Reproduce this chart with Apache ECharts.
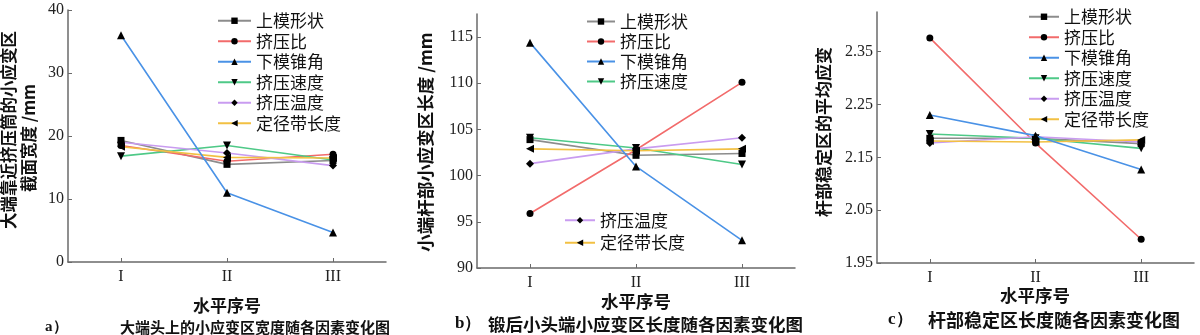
<!DOCTYPE html>
<html>
<head>
<meta charset="utf-8">
<script src="https://cdn.jsdelivr.net/npm/echarts@6/dist/echarts.min.js"></script>
<style>
html,body{margin:0;padding:0;background:#fff;}
#chart{width:1200px;height:335px;}
</style>
</head>
<body>
<div id="chart"></div>
<script>
// ---- data ----
var categories = ['I', 'II', 'III'];
var factors = ['上模形状', '挤压比', '下模锥角', '挤压速度', '挤压温度', '定径带长度'];

// panel a: 大端靠近挤压筒的小应变区截面宽度 /mm
var a_shangmo  = [19.3, 15.5, 16.1];
var a_jiyabi   = [18.5, 16.0, 17.1];
var a_xiamo    = [36.0, 11.0, 4.7];
var a_sudu     = [16.8, 18.5, 16.2];
var a_wendu    = [19.0, 17.3, 15.3];
var a_dingjing = [18.3, 16.6, 16.5];

// panel b: 小端杆部小应变区长度 /mm
var b_shangmo  = [103.9, 102.2, 102.4];
var b_jiyabi   = [95.9, 102.8, 110.1];
var b_xiamo    = [114.4, 101.0, 93.0];
var b_sudu     = [104.1, 103.0, 101.2];
var b_wendu    = [101.3, 102.9, 104.1];
var b_dingjing = [102.9, 102.7, 102.9];

// panel c: 杆部稳定区的平均应变
var c_shangmo  = [2.186, 2.186, 2.176];
var c_jiyabi   = [2.376, 2.177, 1.995];
var c_xiamo    = [2.230, 2.191, 2.127];
var c_sudu     = [2.194, 2.186, 2.167];
var c_wendu    = [2.177, 2.189, 2.179];
var c_dingjing = [2.181, 2.179, 2.183];

var yTicksA = [0, 10, 20, 30, 40];
var yTicksB = [90, 95, 100, 105, 110, 115];
var yTicksC = [1.95, 2.05, 2.15, 2.25, 2.35];

// ---- styles ----
var lineColors = ['#8c8c8c', '#f26b6b', '#4a92e6', '#4ec987', '#c99cf0', '#f2c043'];
var symbols = ['rect', 'circle', 'triangle', 'triangle', 'diamond', 'triangle'];
var symbolRot = [0, 0, 0, 180, 0, 90];
var symSizes = [7, 7, 8, 8, 8, 8];
var CJK = '"Noto Sans CJK SC", sans-serif';
var SERIF = '"Liberation Serif", "DejaVu Serif", serif';
var axisColor = '#6a6a6a';

var chart = echarts.init(document.getElementById('chart'), null, {renderer: 'canvas'});

function xAxis(idx) {
  return {
    type: 'category', gridIndex: idx, data: categories, boundaryGap: true,
    axisLine: {show: true, lineStyle: {color: axisColor, width: 1.5}},
    axisTick: {show: true, inside: true, alignWithLabel: true, length: 4, lineStyle: {color: axisColor}},
    axisLabel: {fontFamily: SERIF, fontSize: 16, color: '#222', margin: 7},
    splitLine: {show: false}
  };
}
function yAxis(idx, min, max, interval, decimals, showMax) {
  return {
    type: 'value', gridIndex: idx, min: min, max: max, interval: interval,
    axisLine: {show: true, lineStyle: {color: axisColor, width: 1.5}},
    axisTick: {show: true, inside: true, length: 4, lineStyle: {color: axisColor}},
    axisLabel: {
      fontFamily: SERIF, fontSize: 16, color: '#222', margin: 4, showMaxLabel: showMax,
      formatter: function (v) { return v.toFixed(decimals); }
    },
    splitLine: {show: false}
  };
}

var panels = [
  [a_shangmo, a_jiyabi, a_xiamo, a_sudu, a_wendu, a_dingjing],
  [b_shangmo, b_jiyabi, b_xiamo, b_sudu, b_wendu, b_dingjing],
  [c_shangmo, c_jiyabi, c_xiamo, c_sudu, c_wendu, c_dingjing]
];

var series = [];
panels.forEach(function (arrs, p) {
  arrs.forEach(function (vals, i) {
    series.push({
      type: 'line', name: factors[i], xAxisIndex: p, yAxisIndex: p,
      data: vals,
      symbol: symbols[i], symbolSize: symSizes[i], symbolRotate: symbolRot[i],
      showAllSymbol: true,
      lineStyle: {color: lineColors[i], width: 1.6},
      itemStyle: {color: '#000'},
      z: i === 2 ? 3 : 2,
      animation: false
    });
  });
});

function legend(left, top, names, itemWidth, lh) {
  return {
    left: left, top: top, orient: 'vertical', data: names, selectedMode: false,
    itemWidth: itemWidth, itemHeight: 8, itemGap: 0, padding: 0,
    textStyle: {fontFamily: CJK, fontSize: 17, color: '#111', lineHeight: lh, padding: [0, 0, 0, 0]}
  };
}

function txt(x, y, s, size, opts) {
  opts = opts || {};
  return {
    type: 'text', x: x, y: y, rotation: opts.rot || 0,
    style: {
      text: s, fontFamily: opts.font || CJK, fontSize: size, fontWeight: opts.weight || 'bold',
      fill: '#111', align: opts.align || 'center', verticalAlign: 'middle'
    }
  };
}

var R = Math.PI / 2;

chart.setOption({
  animation: false,
  backgroundColor: '#fff',
  grid: [
    {left: 68, top: 10, width: 318, height: 252},
    {left: 477, top: 14, width: 318, height: 254},
    {left: 877, top: 12, width: 317, height: 251}
  ],
  xAxis: [xAxis(0), xAxis(1), xAxis(2)],
  yAxis: [
    yAxis(0, 0, 40, 10, 0, true),
    yAxis(1, 90, 117.5, 5, 0, false),
    yAxis(2, 1.95, 2.425, 0.1, 2, false)
  ],
  legend: [
    legend(217, 10.5, factors, 33, 20.5),
    legend(586, 11.5, factors.slice(0, 4), 28, 20),
    legend(564, 209, factors.slice(4), 30, 22.5),
    legend(1028, 6.5, factors, 30, 20.5)
  ],
  graphic: [
    // y axis titles
    txt(9, 130, '大端靠近挤压筒的小应变区', 16.5, {rot: R}),
    txt(29, 138, '截面宽度 /mm', 16.5, {rot: R}),
    txt(425, 142, '小端杆部小应变区长度 /mm', 17.5, {rot: R}),
    txt(824, 132, '杆部稳定区的平均应变', 17, {rot: R}),
    // x axis titles
    txt(227, 306, '水平序号', 17),
    txt(636, 301, '水平序号', 17.5),
    txt(1035, 295, '水平序号', 17.5),
    // captions
    txt(45, 327, 'a）', 15, {align: 'left', font: SERIF}),
    txt(120, 327, '大端头上的小应变区宽度随各因素变化图', 15, {align: 'left'}),
    txt(455, 324, 'b）', 17, {align: 'left', font: SERIF}),
    txt(488, 324, '锻后小头端小应变区长度随各因素变化图', 17.5, {align: 'left'}),
    txt(888, 320, 'c）', 17, {align: 'left', font: SERIF}),
    txt(928, 320, '杆部稳定区长度随各因素变化图', 18, {align: 'left'})
  ],
  series: series
});
</script>
</body>
</html>
